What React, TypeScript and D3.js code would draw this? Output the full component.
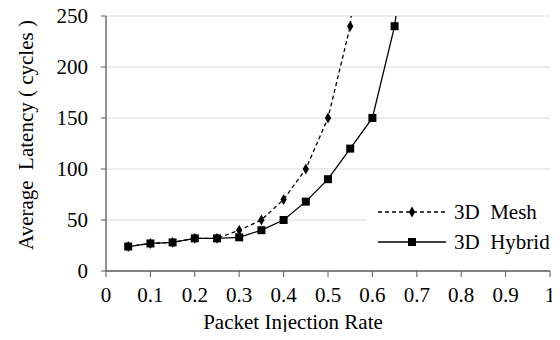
import * as d3 from 'd3';

const rates = [0.05, 0.1, 0.15, 0.2, 0.25, 0.3, 0.35, 0.4, 0.45, 0.5, 0.55, 0.6, 0.65, 0.7];
const meshLatency = [24, 27, 28, 32, 32, 40, 50, 70, 100, 150, 240, 460];
const hybridLatency = [24, 27, 28, 32, 32, 33, 40, 50, 68, 90, 120, 150, 240, 400];
const xTicks = [0, 0.1, 0.2, 0.3, 0.4, 0.5, 0.6, 0.7, 0.8, 0.9, 1];
const yTicks = [0, 50, 100, 150, 200, 250];
const seriesNames = ['3D  Mesh', '3D  Hybrid'];

const W = 560;
const H = 340;
const margin = { top: 16, right: 10, bottom: 69, left: 106 };
const FONT = 'Liberation Serif';
const FS = 21;
const axisColor = '#595959';

export default function App() {
  const innerW = W - margin.left - margin.right;
  const innerH = H - margin.top - margin.bottom;

  const x = d3.scaleLinear().domain([0, 1]).range([0, innerW]);
  const y = d3.scaleLinear().domain([0, 250]).range([innerH, 0]);

  const mesh = meshLatency.map((v, i) => [rates[i], v] as [number, number]);
  const hybrid = hybridLatency.map((v, i) => [rates[i], v] as [number, number]);
  const line = d3.line<[number, number]>().x(d => x(d[0])).y(d => y(d[1]));

  const diamond = d3.symbol().type(d3.symbolDiamond).size(34)()!;
  const square = (s: number) => `M${-s / 2},${-s / 2}h${s}v${s}h${-s}z`;

  const legend = [
    { name: seriesNames[0], dash: '4,3', marker: diamond },
    { name: seriesNames[1], dash: undefined, marker: square(8) },
  ];

  return (
    <svg width={W} height={H} style={{ display: 'block', margin: '-8px' }}>
      <defs>
        <clipPath id="plot-clip">
          <rect x={-10} y={0} width={innerW + 20} height={innerH + 10} />
        </clipPath>
      </defs>
      <g transform={`translate(${margin.left},${margin.top})`}>
        {yTicks.filter(d => d > 0).map(d => (
          <line key={d} x1={0} x2={innerW} y1={y(d)} y2={y(d)} stroke="#d9d9d9" />
        ))}

        <g clipPath="url(#plot-clip)">
          <path d={line(mesh)!} fill="none" stroke="#000" strokeWidth={1.3} strokeDasharray="4,3" />
          <path d={line(hybrid)!} fill="none" stroke="#000" strokeWidth={1.3} />
          {hybrid.filter(d => d[1] <= 250).map(d => (
            <path key={'h' + d[0]} d={square(8)} transform={`translate(${x(d[0])},${y(d[1])})`} fill="#000" />
          ))}
          {mesh.filter(d => d[1] <= 250).map(d => (
            <path key={'m' + d[0]} d={diamond} transform={`translate(${x(d[0])},${y(d[1])})`} fill="#000" />
          ))}
        </g>

        <line x1={0} x2={0} y1={0} y2={innerH} stroke={axisColor} strokeWidth={1.3} />
        <line x1={0} x2={innerW} y1={innerH} y2={innerH} stroke={axisColor} strokeWidth={1.3} />

        {yTicks.map(d => (
          <g key={'y' + d}>
            <line x1={-5} x2={0} y1={y(d)} y2={y(d)} stroke={axisColor} />
            <text x={-18} y={y(d)} dy="0.35em" textAnchor="end" fontFamily={FONT} fontSize={FS} fill="#000">{d}</text>
          </g>
        ))}
        {xTicks.map(d => (
          <g key={'x' + d}>
            <line x1={x(d)} x2={x(d)} y1={innerH} y2={innerH + 6} stroke={axisColor} />
            <text x={x(d)} y={innerH + 31} textAnchor="middle" fontFamily={FONT} fontSize={FS} fill="#000">{String(d)}</text>
          </g>
        ))}
      </g>

      <text x={293} y={329} textAnchor="middle" fontFamily={FONT} fontSize={FS} fill="#000">
        Packet Injection Rate
      </text>
      <text
        transform={`translate(33,135) rotate(-90)`}
        textAnchor="middle"
        fontFamily={FONT}
        fontSize={FS}
        fill="#000"
        style={{ whiteSpace: 'pre' }}
      >
        {'Average  Latency ( cycles )'}
      </text>

      <rect x={367} y={196} width={183} height={62} fill="#fff" />
      {legend.map((r, i) => {
        const ly = 212 + i * 30;
        return (
          <g key={r.name}>
            <line x1={378} x2={446} y1={ly} y2={ly} stroke="#000" strokeWidth={1.3} strokeDasharray={r.dash} />
            <path d={r.marker} transform={`translate(412,${ly})`} fill="#000" />
            <text x={454} y={ly} dy="0.35em" fontFamily={FONT} fontSize={FS} fill="#000" style={{ whiteSpace: 'pre' }}>
              {r.name}
            </text>
          </g>
        );
      })}
    </svg>
  );
}
